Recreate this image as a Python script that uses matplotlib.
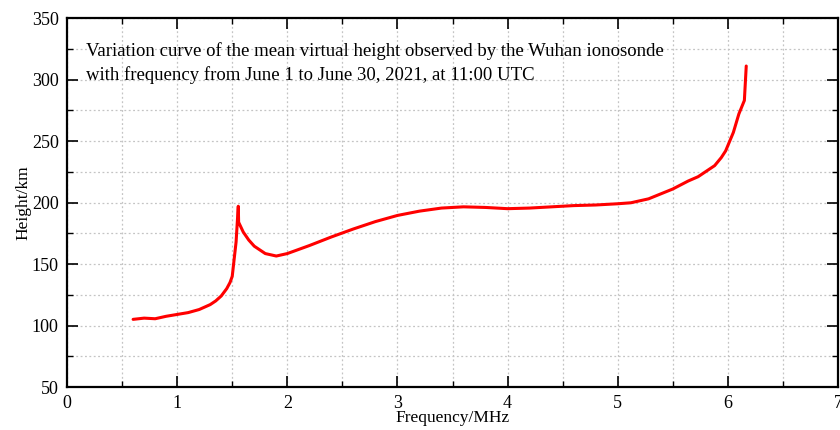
import matplotlib
matplotlib.use("Agg")
import matplotlib.pyplot as plt
from matplotlib.ticker import MultipleLocator

# mean virtual height vs. sounding frequency (Wuhan, June 2021, 11:00 UTC)
freq_mhz = [0.60, 0.70, 0.80, 0.90, 1.00, 1.10, 1.20, 1.30, 1.35, 1.40,
            1.45, 1.48, 1.50, 1.535, 1.55, 1.555, 1.558, 1.60, 1.65, 1.70,
            1.80, 1.90, 2.00, 2.20, 2.40, 2.60, 2.80, 3.00, 3.20, 3.40,
            3.60, 3.80, 4.00, 4.20, 4.40, 4.60, 4.80, 5.00, 5.12, 5.28,
            5.50, 5.64, 5.73, 5.88, 5.94, 5.98, 6.05, 6.10, 6.15, 6.167]
height_km = [105.0, 106.0, 105.5, 107.5, 109.0, 110.5, 113.0, 117.0, 120.0, 124.0,
             130.0, 135.0, 140.0, 168.0, 190.0, 197.0, 184.0, 176.0, 169.5, 164.5,
             158.5, 156.5, 158.5, 165.0, 172.0, 178.5, 184.5, 189.5, 193.0, 195.5,
             196.5, 196.0, 195.0, 195.5, 196.5, 197.5, 198.0, 199.0, 199.8, 203.0,
             211.0, 217.5, 221.0, 230.0, 236.5, 242.0, 257.0, 272.0, 283.0, 311.0]

title_lines = ("Variation curve of the mean virtual height observed by the Wuhan ionosonde\n"
               "with frequency from June 1 to June 30, 2021, at 11:00 UTC")

plt.rcParams["font.family"] = ["Liberation Serif", "DejaVu Serif"]

fig = plt.figure(figsize=(8.4, 4.3), dpi=100)
ax = fig.add_axes([0.0798, 0.1, 0.9178, 0.858])

ax.plot(freq_mhz, height_km, color="#ff0000", linewidth=2.2,
        solid_joinstyle="round", solid_capstyle="round")

ax.set_xlim(0, 7)
ax.set_ylim(50, 350)
ax.xaxis.set_major_locator(MultipleLocator(1))
ax.xaxis.set_minor_locator(MultipleLocator(0.5))
ax.yaxis.set_major_locator(MultipleLocator(50))
ax.yaxis.set_minor_locator(MultipleLocator(25))

ax.grid(which="both", color="#c4c4c4", linestyle=(0, (1.5, 2)), linewidth=0.9)
ax.tick_params(which="both", direction="in", top=True, right=True,
               labelsize=13, colors="black", pad=6)
ax.tick_params(which="major", length=8, width=1.2)
ax.tick_params(which="minor", length=4, width=1.0)
for sp in ax.spines.values():
    sp.set_linewidth(1.6)

ax.set_xlabel("Frequency/MHz", fontsize=12.5, labelpad=-2)
ax.set_ylabel("Height/km", fontsize=12.5, labelpad=0)

ax.text(0.025, 0.935, title_lines, transform=ax.transAxes, fontsize=13.5,
        va="top", ha="left", linespacing=1.45)

fig.savefig("out.png", dpi=100)
